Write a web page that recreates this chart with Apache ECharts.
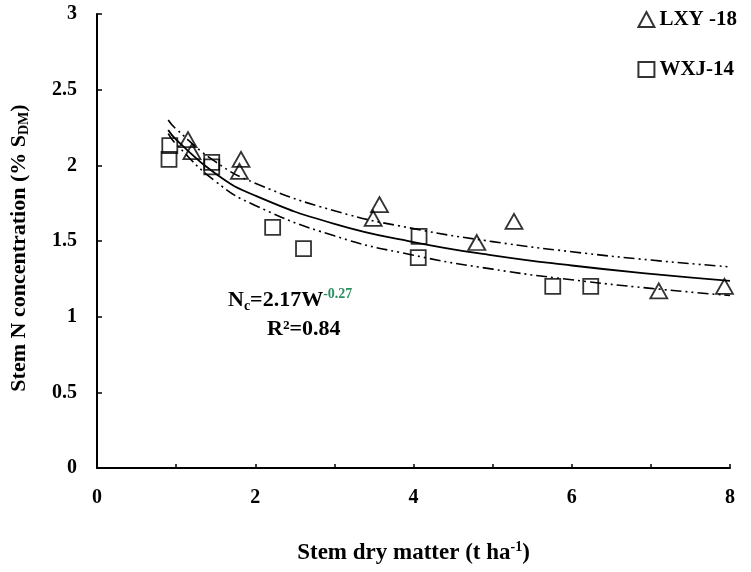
<!DOCTYPE html>
<html><head><meta charset="utf-8">
<script src="https://cdn.jsdelivr.net/npm/echarts@6/dist/echarts.min.js"></script>
<style>html,body{margin:0;padding:0;background:#fff}#c{width:751px;height:572px}</style>
</head><body><div id="c"></div>
<script>
// Observed points (Stem dry matter, Stem N %)
const lxyX = [1.15, 1.20, 1.82, 1.80, 3.49, 3.57, 4.80, 5.27, 7.10, 7.93];
const lxyY = [2.17, 2.09, 2.04, 1.96, 1.65, 1.74, 1.49, 1.63, 1.17, 1.20];
const wxjX = [0.92, 0.91, 1.45, 1.45, 2.22, 2.61, 4.07, 4.06, 5.76, 6.24];
const wxjY = [2.13, 2.04, 2.02, 1.99, 1.59, 1.45, 1.53, 1.39, 1.20, 1.20];
// Curves
const curveX = [0.9, 1, 1.5, 2, 3, 4, 5, 6, 7, 8];
const fitY   = [2.233, 2.17, 1.945, 1.800, 1.613, 1.493, 1.405, 1.338, 1.283, 1.237];
const upperY = [2.30, 2.24, 2.023, 1.882, 1.700, 1.582, 1.496, 1.429, 1.374, 1.329];
const lowerY = [2.21, 2.14, 1.893, 1.735, 1.534, 1.406, 1.314, 1.244, 1.187, 1.140];
const xTicks = [0, 2, 4, 6, 8];

const pairs = (xs, ys) => xs.map((x, i) => [x, ys[i]]);
const serif = '"Liberation Serif","DejaVu Serif",serif';
const chart = echarts.init(document.getElementById('c'));
const dashDot = [11, 4, 2, 4, 2, 4];
chart.setOption({
  animation: false,
  grid: {left: 97, right: 21, top: 14, bottom: 104},
  legend: {
    orient: 'vertical', right: 9, top: 4, itemGap: 29,
    itemWidth: 16, itemHeight: 15,
    data: [
      {name: 'LXY -18', icon: 'triangle'},
      {name: 'WXJ-14', icon: 'rect'}
    ],
    textStyle: {fontFamily: serif, fontWeight: 'bold', fontSize: 21, color: '#000'}
  },
  xAxis: {
    type: 'value', min: 0, max: 8, interval: 1,
    axisLine: {lineStyle: {color: '#000', width: 2}},
    axisTick: {inside: true, length: 4, lineStyle: {color: '#000', width: 1.5}},
    splitLine: {show: false},
    axisLabel: {
      margin: 20, fontFamily: serif, fontWeight: 'bold', fontSize: 20, color: '#000',
      formatter: v => xTicks.includes(v) ? String(v) : ''
    },
    name: '{t|Stem dry matter (t ha}{s|-1}{t|)}',
    nameLocation: 'middle', nameGap: 72,
    nameTextStyle: {
      rich: {
        t: {fontFamily: serif, fontWeight: 'bold', fontSize: 23, color: '#000'},
        s: {fontFamily: serif, fontWeight: 'bold', fontSize: 14, color: '#000', verticalAlign: 'top', padding: [0, 0, 12, 0]}
      }
    }
  },
  yAxis: {
    type: 'value', min: 0, max: 3, interval: 0.5,
    axisLine: {show: true, lineStyle: {color: '#000', width: 2}},
    axisTick: {show: true, inside: true, length: 5, lineStyle: {color: '#000', width: 1.5}},
    splitLine: {show: false},
    axisLabel: {margin: 20, fontFamily: serif, fontWeight: 'bold', fontSize: 20, color: '#000'},
    name: '{t|Stem N concentration (% S}{s|DM}{t|)}',
    nameLocation: 'middle', nameGap: 66,
    nameTextStyle: {
      padding: [0, 14, 0, 0],
      rich: {
        t: {fontFamily: serif, fontWeight: 'bold', fontSize: 22, color: '#000'},
        s: {fontFamily: serif, fontWeight: 'bold', fontSize: 14, color: '#000', padding: [9, 0, 0, 0]}
      }
    }
  },
  series: [
    {name: 'upper', type: 'line', smooth: true, showSymbol: false, silent: true,
     data: pairs(curveX, upperY), lineStyle: {color: '#000', width: 1.6, type: dashDot}},
    {name: 'lower', type: 'line', smooth: true, showSymbol: false, silent: true,
     data: pairs(curveX, lowerY), lineStyle: {color: '#000', width: 1.6, type: dashDot}},
    {name: 'fit', type: 'line', smooth: true, showSymbol: false, silent: true,
     data: pairs(curveX, fitY), lineStyle: {color: '#000', width: 1.8}},
    {name: 'LXY -18', type: 'scatter', symbol: 'triangle', symbolSize: [17, 15],
     data: pairs(lxyX, lxyY),
     itemStyle: {color: 'rgba(255,255,255,0)', borderColor: '#000', borderWidth: 1.8}},
    {name: 'WXJ-14', type: 'scatter', symbol: 'rect', symbolSize: 15,
     data: pairs(wxjX, wxjY),
     itemStyle: {color: 'rgba(255,255,255,0)', borderColor: '#000', borderWidth: 1.8}}
  ],
  graphic: [
    {type: 'text', left: 228, top: 287, style: {
      text: '{t|N}{sub|c}{t|=2.17W}{sup|-0.27}',
      rich: {
        t: {fontFamily: serif, fontWeight: 'bold', fontSize: 22, fill: '#000'},
        sub: {fontFamily: serif, fontWeight: 'bold', fontSize: 14, fill: '#000', padding: [12, 0, 0, 0]},
        sup: {fontFamily: serif, fontWeight: 'bold', fontSize: 14, fill: '#2f8f5f', padding: [0, 0, 12, 0]}
      }}},
    {type: 'text', left: 267, top: 318, style: {
      text: 'R²=0.84', fontFamily: serif, fontWeight: 'bold', fontSize: 22, fill: '#000'}}
  ]
});
</script></body></html>
